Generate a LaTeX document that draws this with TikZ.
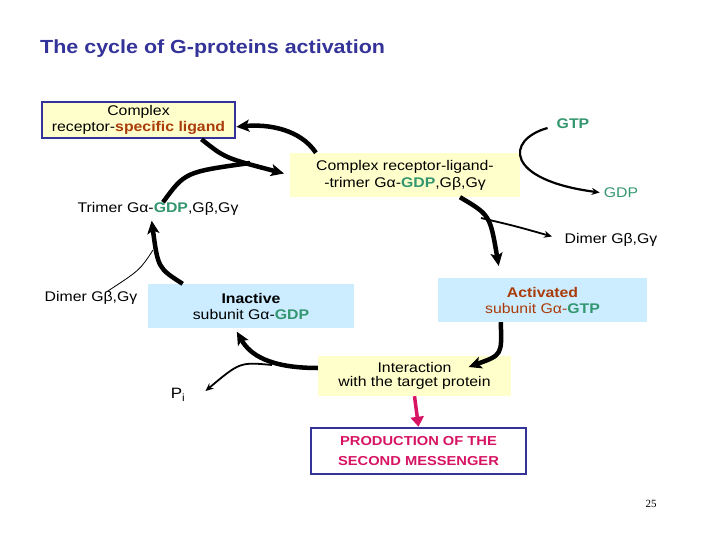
\documentclass[tikz,border=0pt]{standalone}
\usepackage{fontspec}
\setmainfont{Liberation Sans}[FakeStretch=1.13]
\newfontfamily\numfont{Liberation Serif}
\usetikzlibrary{arrows.meta}
\definecolor{slideblue}{RGB}{51,51,153}
\definecolor{ligbrown}{RGB}{170,60,10}
\definecolor{gdpgreen}{RGB}{51,150,110}
\definecolor{prodpink}{RGB}{215,20,100}
\definecolor{paleyellow}{RGB}{255,255,204}
\definecolor{paleblue}{RGB}{204,236,255}
\begin{document}
\begin{tikzpicture}
  [x=1pt,y=-1pt,
   every node/.style={font=\fontsize{14}{16}\selectfont,align=center,inner sep=0pt},
   framed/.style={draw=slideblue,line width=2.5pt},
   yellowbox/.style={fill=paleyellow},
   bluebox/.style={fill=paleblue},
   bigarrow/.style={line width=4.5pt,-{Stealth[length=13pt,width=12pt,inset=3pt]}},
   bigline/.style={line width=4.5pt},
   midarrow/.style={line width=2.2pt,-{Stealth[length=8pt,width=7pt]}},
   thinarrow/.style={line width=1.8pt,-{Stealth[length=8pt,width=7pt]}},
   thinline/.style={line width=0.8pt},
   pinkarrow/.style={draw=prodpink,line width=3.5pt,-{Triangle[length=10pt,width=13pt]}}]
  \useasboundingbox (0,0) rectangle (720,540);

  \node (title) [anchor=west,text=slideblue,font=\fontsize{19}{22}\selectfont\bfseries] at (40,49) {The cycle of G-proteins activation};
  \node (b1) [framed,yellowbox,minimum width=193pt,minimum height=36pt] at (138.5,120) {Complex\\receptor-\textbf{\color{ligbrown}specific ligand}};
  \node (gtp) [text=gdpgreen,font=\fontsize{14}{16}\selectfont\bfseries] at (573,124) {GTP};
  \node (b2) [yellowbox,minimum width=230pt,minimum height=44pt,font=\fontsize{14}{17}\selectfont] at (405,175) {Complex receptor-ligand-\\-trimer Gα-\textbf{\color{gdpgreen}GDP},Gβ,Gγ};
  \node (gdp) [text=gdpgreen] at (621,193) {GDP};
  \node (trimer) at (158,209) {Trimer Gα-\textbf{\color{gdpgreen}GDP},Gβ,Gγ};
  \node (dimR) at (611,240) {Dimer Gβ,Gγ};
  \node (dimL) at (91,298) {Dimer Gβ,Gγ};
  \node (b3) [bluebox,minimum width=206pt,minimum height=44pt] at (251,306) {\textbf{Inactive}\\subunit Gα-\textbf{\color{gdpgreen}GDP}};
  \node (b4) [bluebox,minimum width=209pt,minimum height=44pt,text=ligbrown] at (542.5,300) {\textbf{Activated}\\subunit Gα-\textbf{\color{gdpgreen}GTP}};
  \node (b5) [yellowbox,minimum width=193pt,minimum height=40pt,font=\fontsize{14}{14}\selectfont] at (414.5,376) {Interaction\\with the target protein};
  \node (pi) [font=\fontsize{15}{16}\selectfont] at (178,395) {P\textsubscript{i}};
  \node (b6) [framed,fill=white,minimum width=215pt,minimum height=46pt,text=prodpink,font=\fontsize{13}{20}\selectfont\bfseries] at (418.5,451) {PRODUCTION OF THE\\SECOND MESSENGER};
  \node (page) [font=\numfont\fontsize{11}{13}\selectfont] at (651,504) {25};

  \coordinate (j1) at (250,163);
  \coordinate (j3) at (153,250);
  \coordinate (j5) at (481,218);
  \coordinate (t5) at ([shift={(54,-9)}]b5.center);
  \coordinate (j7) at (272,365);

  \draw[bigarrow] (b2.166) .. controls (300,129) and (268,124) .. (b1.-4);
  \draw[bigarrow,shorten >=6pt] (b1.-17) .. controls (225,158) .. (b2.west);
  \draw[bigline] ([xshift=5pt]trimer.north) .. controls (185,172) .. (j1);
  \draw[bigarrow,shorten >=5pt] (b3.162) .. controls (158,268) .. ([xshift=-7pt]trimer.south);
  \draw[thinline] ([xshift=-30pt]dimL.north east) .. controls (140,270) .. (j3);
  \draw[midarrow,shorten >=4pt] ([xshift=-9pt,yshift=-4pt]gtp.west) .. controls (505,140) and (505,180) .. (gdp.west);
  \draw[bigarrow,shorten >=12pt] (b2.-22) .. controls (490,215) .. (b4.152);
  \draw[thinarrow,shorten >=13pt] (j5) .. controls (515,226) .. (dimR.west);
  \draw[bigarrow] (b4.208) .. controls (502,355) .. (t5);
  \draw[bigarrow,shorten >=4pt] ([yshift=8pt]b5.west) .. controls (270,368) and (250,355) .. (b3.234);
  \draw[thinarrow] (j7) .. controls (240,362) .. ([shift={(20,-4)}]pi.east);
  \draw[pinkarrow] (b5.south) -- (b6.north);
\end{tikzpicture}
\end{document}
